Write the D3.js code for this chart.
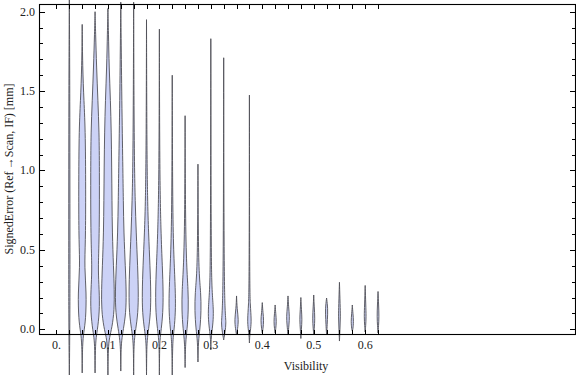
<!DOCTYPE html>
<html>
<head>
<meta charset="utf-8">
<script src="https://cdn.jsdelivr.net/npm/d3@7"></script>
<style>
  body { margin: 0; background: #fff; }
  svg { display: block; font-family: "Liberation Serif", "DejaVu Serif", serif; }
  .tick-label { font-size: 12px; fill: #222; }
  .axis-title { font-size: 12px; fill: #222; }
</style>
</head>
<body>
<svg width="576" height="375"></svg>
<script>
// visibility bins (one violin per bin)
var visibility = [0.025, 0.05, 0.075, 0.1, 0.125, 0.15, 0.175, 0.2, 0.225, 0.25,
    0.275, 0.3, 0.325, 0.35, 0.375, 0.4, 0.425, 0.45, 0.475, 0.5,
    0.525, 0.55, 0.575, 0.6, 0.625];

// smooth density outline of each violin: [signed error in mm, density]
var profiles = [
    [[2.12, 0], [1.5, 0.5], [0.5, 0.6], [0.1, 0.6], [-0.32, 0]],
    [[1.92, 0], [1.65, 0.4], [1.44, 1.7], [1.24, 3.2], [0.81, 3.5], [0.55, 3.2], [0.39, 2.2], [0.23, 4.2], [0.06, 3.5], [-0.02, 1.5], [-0.09, 0.3], [-0.275, 0]],
    [[2.0, 0], [1.87, 0.5], [1.65, 1.5], [1.44, 2.8], [1.24, 4], [1.02, 4.3], [0.61, 4.3], [0.39, 3], [0.29, 3.7], [0.14, 4.7], [0.01, 2.7], [-0.05, 1], [-0.12, 0.3], [-0.275, 0]],
    [[2.02, 0], [1.87, 0.5], [1.65, 1.2], [1.44, 2.5], [1.24, 3.3], [1.02, 3.7], [0.81, 4], [0.61, 4.3], [0.39, 5.5], [0.25, 6.3], [0.12, 6.3], [0.01, 4], [-0.05, 1.5], [-0.12, 0.3], [-0.29, 0]],
    [[2.06, 0], [1.87, 0.3], [1.44, 1], [1.02, 2], [0.81, 2.5], [0.61, 3], [0.39, 4.5], [0.23, 5.5], [0.10, 5], [0.0, 2.5], [-0.07, 0.8], [-0.14, 0.2], [-0.263, 0]],
    [[2.06, 0], [1.44, 0.3], [1.02, 0.8], [0.81, 1.5], [0.61, 2.5], [0.39, 4], [0.23, 4.7], [0.10, 4.3], [0.0, 2], [-0.07, 0.6], [-0.14, 0.2], [-0.29, 0]],
    [[1.95, 0], [1.2, 0.3], [0.81, 1], [0.61, 2], [0.39, 3.5], [0.23, 4.3], [0.10, 4], [0.0, 2], [-0.07, 0.6], [-0.14, 0.2], [-0.29, 0]],
    [[1.89, 0], [1.0, 0.3], [0.61, 1.5], [0.39, 3], [0.23, 3.8], [0.10, 3.5], [0.0, 1.8], [-0.07, 0.5], [-0.14, 0.2], [-0.29, 0]],
    [[1.6, 0], [0.9, 0.3], [0.55, 1], [0.33, 2.5], [0.19, 3.3], [0.08, 3], [-0.02, 1.5], [-0.08, 0.4], [-0.29, 0]],
    [[1.345, 0], [0.7, 0.3], [0.39, 1.5], [0.25, 3], [0.12, 3.3], [0.0, 2], [-0.08, 0.4], [-0.241, 0]],
    [[1.04, 0], [0.6, 0.3], [0.35, 1], [0.23, 2.8], [0.12, 3.2], [0.0, 2], [-0.07, 0.4], [-0.206, 0]],
    [[1.83, 0], [0.5, 0.3], [0.25, 1], [0.14, 2.5], [0.06, 2.5], [-0.02, 1], [-0.06, 0.3], [-0.13, 0]],
    [[1.71, 0], [0.4, 0.3], [0.1, 1.3], [0.04, 2.5], [-0.02, 1.3], [-0.067, 0]],
    [[0.21, 0], [0.13, 0.5], [0.06, 2], [0.0, 1], [-0.036, 0]],
    [[1.475, 0], [0.3, 0.2], [0.15, 0.8], [0.06, 2], [0.0, 1.2], [-0.04, 0.3], [-0.086, 0]],
    [[0.168, 0], [0.1, 0.7], [0.06, 1.5], [0.0, 0.7], [-0.023, 0]],
    [[0.153, 0], [0.1, 0.6], [0.05, 1.3], [0.0, 0.6], [-0.023, 0]],
    [[0.21, 0], [0.14, 0.6], [0.08, 1.5], [0.03, 1], [-0.036, 0]],
    [[0.2, 0], [0.12, 0.6], [0.06, 1.2], [0.0, 0.5], [-0.058, 0]],
    [[0.216, 0], [0.14, 0.5], [0.07, 1.2], [0.0, 0.5], [-0.03, 0]],
    [[0.197, 0], [0.13, 1.3], [0.06, 0.8], [0.0, 0.4], [-0.03, 0]],
    [[0.296, 0], [0.15, 0.7], [0.08, 1], [0.0, 0.5], [-0.074, 0]],
    [[0.153, 0], [0.1, 0.6], [0.05, 1.3], [0.0, 0.6], [-0.011, 0]],
    [[0.276, 0], [0.15, 0.6], [0.08, 1], [0.02, 0.5], [-0.017, 0]],
    [[0.238, 0], [0.15, 0.6], [0.08, 1], [0.02, 0.5], [-0.023, 0]]
];

var xTickValues = d3.range(0, 26).map(function (i) { return i * 0.025; });
var xLabelValues = [0, 0.1, 0.2, 0.3, 0.4, 0.5, 0.6];
var xLabels = ["0.", "0.1", "0.2", "0.3", "0.4", "0.5", "0.6"];
var yMinorValues = d3.range(0, 21).map(function (i) { return i / 10; });
var yLabelValues = [0, 0.5, 1, 1.5, 2];
var yLabels = ["0.0", "0.5", "1.0", "1.5", "2.0"];

var frame = { left: 39.5, right: 575.5, top: 4.5, bottom: 334.5 };

var xScale = d3.scaleLinear()
    .domain([-0.033, 1.0088])
    .range([frame.left, frame.right]);

var yScale = d3.scaleLinear()
    .domain([-0.036, 2.046])
    .range([335, 4.4]);

// density -> half width in px
var wScale = d3.scaleLinear()
    .domain([0, 6.3])
    .range([0, 6.4]);

var svg = d3.select("svg");

// violins (not clipped, tails run past the frame like the original)
var violins = svg.append("g");
profiles.forEach(function (prof, i) {
    var cx = xScale(visibility[i]);
    var area = d3.area()
        .curve(d3.curveBasis)
        .y(function (d) { return yScale(d[0]); })
        .x0(function (d) { return cx - wScale(d[1]); })
        .x1(function (d) { return cx + wScale(d[1]); });
    violins.append("path")
        .datum(prof)
        .attr("d", area)
        .attr("fill", "#ccd2f6")
        .attr("stroke", "#505058")
        .attr("stroke-width", 0.9);
});

// frame
svg.append("rect")
    .attr("x", frame.left)
    .attr("y", frame.top)
    .attr("width", frame.right - frame.left)
    .attr("height", frame.bottom - frame.top)
    .attr("fill", "none")
    .attr("stroke", "#000")
    .attr("stroke-width", 1.1);

var ticks = svg.append("g").attr("stroke", "#000").attr("stroke-width", 1);

// x ticks, bottom and top
xTickValues.forEach(function (v) {
    var x = Math.round(xScale(v)) + 0.5;
    ticks.append("line").attr("x1", x).attr("x2", x).attr("y1", frame.bottom).attr("y2", frame.bottom - 4.5);
    ticks.append("line").attr("x1", x).attr("x2", x).attr("y1", frame.top).attr("y2", frame.top + 4.5);
});

// y ticks, left and right
yMinorValues.forEach(function (v) {
    var y = Math.round(yScale(v)) + 0.5;
    var len = (Math.round(v * 10) % 5 == 0) ? 5.5 : 3.5;
    ticks.append("line").attr("y1", y).attr("y2", y).attr("x1", frame.left).attr("x2", frame.left + len);
    ticks.append("line").attr("y1", y).attr("y2", y).attr("x1", frame.right).attr("x2", frame.right - len);
});

svg.append("g").selectAll("text")
    .data(xLabelValues)
    .enter().append("text")
    .attr("class", "tick-label")
    .attr("x", function (d) { return xScale(d); })
    .attr("y", 349)
    .attr("text-anchor", "middle")
    .text(function (d, i) { return xLabels[i]; });

svg.append("g").selectAll("text")
    .data(yLabelValues)
    .enter().append("text")
    .attr("class", "tick-label")
    .attr("x", 35)
    .attr("y", function (d) { return yScale(d) + 4; })
    .attr("text-anchor", "end")
    .text(function (d, i) { return yLabels[i]; });

svg.append("text")
    .attr("class", "axis-title")
    .attr("x", 306)
    .attr("y", 370)
    .attr("text-anchor", "middle")
    .text("Visibility");

svg.append("text")
    .attr("class", "axis-title")
    .attr("transform", "translate(13,169) rotate(-90)")
    .attr("text-anchor", "middle")
    .text("SignedError (Ref\u2009\u2192Scan, IF) [mm]");
</script>
</body>
</html>
